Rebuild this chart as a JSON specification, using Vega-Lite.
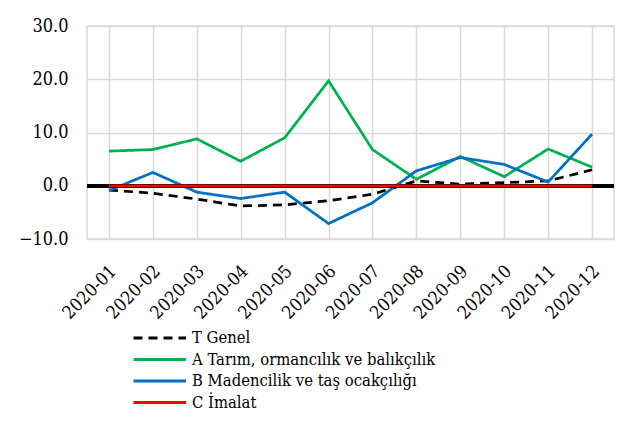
{
  "$schema": "https://vega.github.io/schema/vega-lite/v6.json",
  "width": 527,
  "height": 213,
  "autosize": {"type": "none"},
  "padding": {"left": 87, "top": 26, "right": 24, "bottom": 187},
  "background": "white",
  "config": {
    "font": "DejaVu Serif Condensed, DejaVu Serif",
    "view": {"stroke": "#d9d9d9", "strokeWidth": 1.5}
  },
  "data": {
    "values": [
      {"month": "2020-01", "series": "T Genel", "value": -0.8},
      {"month": "2020-02", "series": "T Genel", "value": -1.4},
      {"month": "2020-03", "series": "T Genel", "value": -2.5},
      {"month": "2020-04", "series": "T Genel", "value": -3.8},
      {"month": "2020-05", "series": "T Genel", "value": -3.6},
      {"month": "2020-06", "series": "T Genel", "value": -2.8},
      {"month": "2020-07", "series": "T Genel", "value": -1.6},
      {"month": "2020-08", "series": "T Genel", "value": 0.9},
      {"month": "2020-09", "series": "T Genel", "value": 0.3},
      {"month": "2020-10", "series": "T Genel", "value": 0.6},
      {"month": "2020-11", "series": "T Genel", "value": 0.9},
      {"month": "2020-12", "series": "T Genel", "value": 3.0},
      {"month": "2020-01", "series": "A Tarım, ormancılık ve balıkçılık", "value": 6.5},
      {"month": "2020-02", "series": "A Tarım, ormancılık ve balıkçılık", "value": 6.8},
      {"month": "2020-03", "series": "A Tarım, ormancılık ve balıkçılık", "value": 8.8},
      {"month": "2020-04", "series": "A Tarım, ormancılık ve balıkçılık", "value": 4.6},
      {"month": "2020-05", "series": "A Tarım, ormancılık ve balıkçılık", "value": 9.0},
      {"month": "2020-06", "series": "A Tarım, ormancılık ve balıkçılık", "value": 19.7},
      {"month": "2020-07", "series": "A Tarım, ormancılık ve balıkçılık", "value": 6.8},
      {"month": "2020-08", "series": "A Tarım, ormancılık ve balıkçılık", "value": 1.2},
      {"month": "2020-09", "series": "A Tarım, ormancılık ve balıkçılık", "value": 5.5},
      {"month": "2020-10", "series": "A Tarım, ormancılık ve balıkçılık", "value": 1.7},
      {"month": "2020-11", "series": "A Tarım, ormancılık ve balıkçılık", "value": 6.9},
      {"month": "2020-12", "series": "A Tarım, ormancılık ve balıkçılık", "value": 3.5},
      {"month": "2020-01", "series": "B Madencilik ve taş ocakçılığı", "value": -0.9},
      {"month": "2020-02", "series": "B Madencilik ve taş ocakçılığı", "value": 2.5},
      {"month": "2020-03", "series": "B Madencilik ve taş ocakçılığı", "value": -1.2},
      {"month": "2020-04", "series": "B Madencilik ve taş ocakçılığı", "value": -2.4},
      {"month": "2020-05", "series": "B Madencilik ve taş ocakçılığı", "value": -1.2},
      {"month": "2020-06", "series": "B Madencilik ve taş ocakçılığı", "value": -7.1},
      {"month": "2020-07", "series": "B Madencilik ve taş ocakçılığı", "value": -3.2},
      {"month": "2020-08", "series": "B Madencilik ve taş ocakçılığı", "value": 2.8},
      {"month": "2020-09", "series": "B Madencilik ve taş ocakçılığı", "value": 5.3},
      {"month": "2020-10", "series": "B Madencilik ve taş ocakçılığı", "value": 4.0},
      {"month": "2020-11", "series": "B Madencilik ve taş ocakçılığı", "value": 0.7},
      {"month": "2020-12", "series": "B Madencilik ve taş ocakçılığı", "value": 9.7},
      {"month": "2020-01", "series": "C İmalat", "value": 0.0},
      {"month": "2020-02", "series": "C İmalat", "value": 0.0},
      {"month": "2020-03", "series": "C İmalat", "value": 0.0},
      {"month": "2020-04", "series": "C İmalat", "value": 0.0},
      {"month": "2020-05", "series": "C İmalat", "value": 0.0},
      {"month": "2020-06", "series": "C İmalat", "value": 0.0},
      {"month": "2020-07", "series": "C İmalat", "value": 0.0},
      {"month": "2020-08", "series": "C İmalat", "value": 0.0},
      {"month": "2020-09", "series": "C İmalat", "value": 0.0},
      {"month": "2020-10", "series": "C İmalat", "value": 0.0},
      {"month": "2020-11", "series": "C İmalat", "value": 0.0},
      {"month": "2020-12", "series": "C İmalat", "value": 0.0}
    ]
  },
  "layer": [
    {
      "mark": {"type": "line", "strokeWidth": 2.75},
      "encoding": {
        "x": {
          "field": "month",
          "type": "ordinal",
          "title": null,
          "axis": {
            "grid": true,
            "bandPosition": 0,
            "gridColor": "#d9d9d9",
            "gridWidth": 1.5,
            "ticks": false,
            "domain": false,
            "labelAngle": -45,
            "labelAlign": "right",
            "labelBaseline": "top",
            "labelPadding": 23,
            "labelOffset": -2,
            "labelFontSize": 18,
            "labelColor": "black"
          }
        },
        "y": {
          "field": "value",
          "type": "quantitative",
          "title": null,
          "scale": {"domain": [-10, 30], "nice": false},
          "axis": {
            "values": [-10, 0, 10, 20, 30],
            "format": ".1f",
            "grid": true,
            "gridColor": "#d9d9d9",
            "gridWidth": 1.5,
            "ticks": false,
            "domain": false,
            "labelPadding": 19,
            "labelFontSize": 18,
            "labelColor": "black"
          }
        },
        "color": {
          "field": "series",
          "type": "nominal",
          "sort": null,
          "scale": {
            "domain": ["T Genel", "A Tarım, ormancılık ve balıkçılık", "B Madencilik ve taş ocakçılığı", "C İmalat"],
            "range": ["#000000", "#00b050", "#0070c0", "#ff0000"]
          },
          "legend": {
            "title": null,
            "orient": "none",
            "legendX": 45,
            "legendY": 300,
            "direction": "vertical",
            "symbolType": "M-1,0H4",
            "symbolSize": 441,
            "symbolStrokeWidth": 3,
            "labelFontSize": 16.5,
            "labelColor": "black",
            "labelOffset": 36,
            "labelLimit": 500,
            "rowPadding": 0.5
          }
        },
        "strokeDash": {
          "field": "series",
          "type": "nominal",
          "sort": null,
          "scale": {
            "domain": ["T Genel", "A Tarım, ormancılık ve balıkçılık", "B Madencilik ve taş ocakçılığı", "C İmalat"],
            "range": [[9, 6], [1, 0], [1, 0], [1, 0]]
          },
          "legend": null
        }
      }
    },
    {
      "mark": {"type": "rule", "color": "black", "strokeWidth": 3},
      "encoding": {"y": {"datum": 0}}
    },
    {
      "transform": [{"filter": "datum.series === 'C İmalat'"}],
      "mark": {"type": "line", "strokeWidth": 2.75, "color": "#ff0000"},
      "encoding": {
        "x": {"field": "month", "type": "ordinal"},
        "y": {"field": "value", "type": "quantitative"}
      }
    }
  ]
}
